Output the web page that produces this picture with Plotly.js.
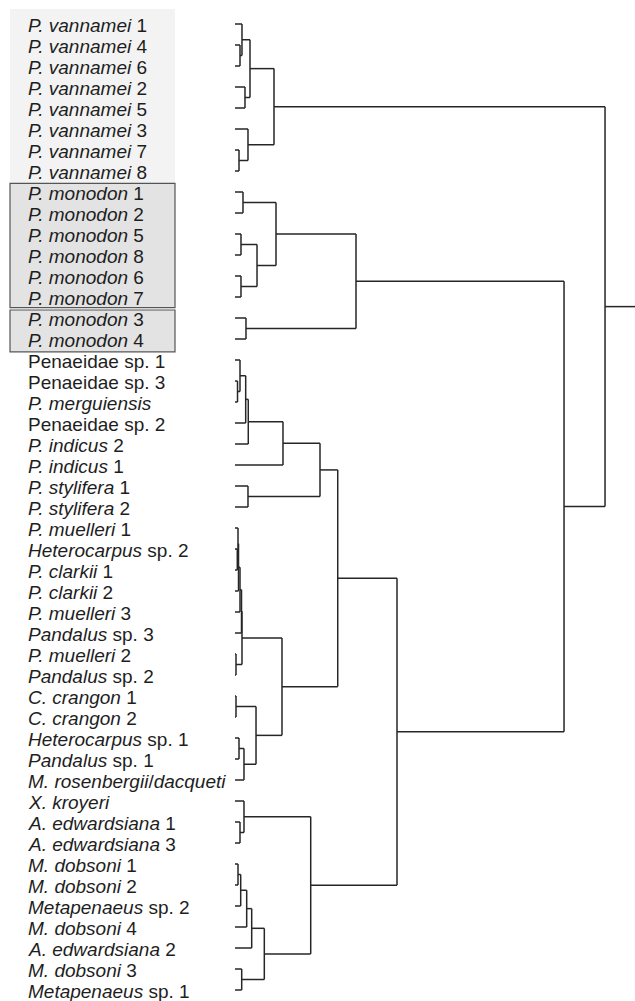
<!DOCTYPE html>
<html>
<head>
<meta charset="utf-8">
<script src="https://cdn.plot.ly/plotly-3.0.1.min.js"></script>
<style>html,body{margin:0;padding:0;background:#fff;}#chart{width:635px;height:1001px;}</style>
</head>
<body>
<div id="chart"></div>
<script>
// Leaf labels (top to bottom)
const labels = [
  "<i>P. vannamei</i> 1","<i>P. vannamei</i> 4","<i>P. vannamei</i> 6","<i>P. vannamei</i> 2",
  "<i>P. vannamei</i> 5","<i>P. vannamei</i> 3","<i>P. vannamei</i> 7","<i>P. vannamei</i> 8",
  "<i>P. monodon</i> 1","<i>P. monodon</i> 2","<i>P. monodon</i> 5","<i>P. monodon</i> 8",
  "<i>P. monodon</i> 6","<i>P. monodon</i> 7","<i>P. monodon</i> 3","<i>P. monodon</i> 4",
  "Penaeidae sp. 1","Penaeidae sp. 3","<i>P. merguiensis</i>","Penaeidae sp. 2",
  "<i>P. indicus</i> 2","<i>P. indicus</i> 1","<i>P. stylifera</i> 1","<i>P. stylifera</i> 2",
  "<i>P. muelleri</i> 1","<i>Heterocarpus</i> sp. 2","<i>P. clarkii</i> 1","<i>P. clarkii</i> 2",
  "<i>P. muelleri</i> 3","<i>Pandalus</i> sp. 3","<i>P. muelleri</i> 2","<i>Pandalus</i> sp. 2",
  "<i>C. crangon</i> 1","<i>C. crangon</i> 2","<i>Heterocarpus</i> sp. 1","<i>Pandalus</i> sp. 1",
  "<i>M. rosenbergii</i>/<i>dacqueti</i>","<i>X. kroyeri</i>","<i>A. edwardsiana</i> 1","<i>A. edwardsiana</i> 3",
  "<i>M. dobsoni</i> 1","<i>M. dobsoni</i> 2","<i>Metapenaeus</i> sp. 2","<i>M. dobsoni</i> 4",
  "<i>A. edwardsiana</i> 2","<i>M. dobsoni</i> 3","<i>Metapenaeus</i> sp. 1"
];
// Linkage: node ids 0..46 are leaves, 47+k is merge k
const mergeLeft  = [1, 0, 3, 48, 6, 5, 50, 8, 10, 12, 55, 54, 14, 58,
                    17, 16, 62, 63, 64, 22, 65, 25, 24, 69, 70, 71, 30, 72,
                    32, 34, 76, 75, 74, 67, 38, 37, 40, 83, 84, 85, 45, 86, 82, 80, 60, 53];
const mergeRight = [2, 47, 4, 49, 7, 51, 52, 9, 11, 13, 56, 57, 15, 59,
                    18, 61, 19, 20, 21, 23, 66, 26, 68, 27, 28, 29, 31, 73,
                    33, 35, 36, 77, 78, 79, 39, 81, 41, 42, 43, 44, 46, 87, 88, 89, 90, 91];
const mergeHeight = [1.35, 1.89, 2.70, 4.05, 1.08, 3.51, 10.54, 2.16, 1.62, 1.62, 5.95, 11.08, 2.97, 32.70,
                     0.68, 1.35, 2.89, 3.59, 12.97, 3.51, 22.97, 0.62, 0.81, 0.95, 1.35, 1.76, 0.27, 1.89,
                     0.27, 1.08, 2.43, 5.68, 12.70, 27.76, 1.35, 2.43, 0.81, 1.54, 3.16, 4.51, 1.81, 7.92, 20.46, 43.78, 88.92, 100];

const nLeaf = labels.length;
const xMax = 108.1;
const yTop = -24/21, yBottom = (1001-24)/21;

const nodeY = [], nodeH = [];
for (let i = 0; i < nLeaf; i++) { nodeY[i] = i; nodeH[i] = 0; }
const xs = [], ys = [];
for (let k = 0; k < mergeLeft.length; k++) {
  const a = mergeLeft[k], b = mergeRight[k], h = mergeHeight[k];
  const id = nLeaf + k;
  nodeY[id] = (nodeY[a] + nodeY[b]) / 2;
  nodeH[id] = h;
  xs.push(nodeH[a], h, null); ys.push(nodeY[a], nodeY[a], null);
  xs.push(nodeH[b], h, null); ys.push(nodeY[b], nodeY[b], null);
  xs.push(h, h, null); ys.push(nodeY[a], nodeY[b], null);
}
const rootId = nLeaf + mergeLeft.length - 1;
xs.push(nodeH[rootId], xMax); ys.push(nodeY[rootId], nodeY[rootId]);

const trace = {
  x: xs, y: ys, type: 'scatter', mode: 'lines',
  line: {color: '#262626', width: 1.5},
  hoverinfo: 'skip', showlegend: false, cliponaxis: false
};

const plotL = 235, plotW = 400;
const labelX = (26 - plotL) / plotW;
const annotations = labels.map((t, i) => ({
  text: t, xref: 'paper', yref: 'y', x: labelX, y: i + 0.08,
  xanchor: 'left', yanchor: 'middle', showarrow: false,
  font: {family: 'Liberation Sans, Arial, sans-serif', size: 19, color: '#1e1e1e'}
}));

const boxL = (10 - plotL) / plotW, boxR = (175 - plotL) / plotW;
const shapes = [
  {type: 'rect', xref: 'paper', yref: 'y', x0: boxL, x1: boxR, y0: -0.714, y1: 7.58,
   fillcolor: '#f3f3f3', line: {width: 0}, layer: 'below'},
  {type: 'rect', xref: 'paper', yref: 'y', x0: boxL, x1: boxR, y0: 7.59, y1: 13.51,
   fillcolor: '#e3e3e3', line: {color: '#555', width: 1.2}, layer: 'below'},
  {type: 'rect', xref: 'paper', yref: 'y', x0: boxL, x1: boxR, y0: 13.62, y1: 15.61,
   fillcolor: '#e3e3e3', line: {color: '#555', width: 1.2}, layer: 'below'}
];

const layout = {
  width: 635, height: 1001,
  margin: {l: plotL, r: 0, t: 0, b: 0, pad: 0},
  paper_bgcolor: '#fff', plot_bgcolor: 'rgba(0,0,0,0)',
  xaxis: {range: [0, xMax], visible: false, fixedrange: true},
  yaxis: {range: [yBottom, yTop], visible: false, fixedrange: true},
  shapes: shapes, annotations: annotations, showlegend: false
};

Plotly.newPlot('chart', [trace], layout, {staticPlot: true});
</script>
</body>
</html>
